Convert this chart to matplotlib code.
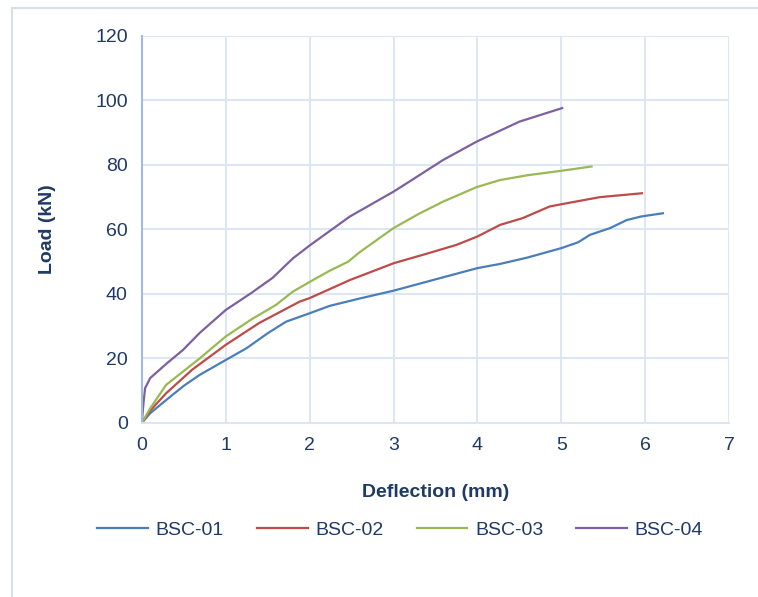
import numpy as np
import matplotlib
matplotlib.use("Agg")
import matplotlib.pyplot as plt
from matplotlib.patches import Rectangle

plt.rcParams['font.family'] = ['Liberation Sans', 'DejaVu Sans']

# load-deflection curves
bsc01_x = [0, 0.1, 0.29, 0.5, 0.69, 1.0, 1.25, 1.5, 1.72, 2.0, 2.24, 2.6, 3.0, 3.47, 4.0, 4.27, 4.6, 5.0, 5.2, 5.34, 5.58, 5.78, 5.95, 6.21]
bsc01_y = [0, 3.0, 7.1, 11.5, 14.9, 19.5, 23.2, 27.8, 31.4, 34.0, 36.3, 38.6, 41.0, 44.3, 48.0, 49.3, 51.3, 54.2, 56.0, 58.3, 60.4, 62.9, 64.0, 65.0]

bsc02_x = [0, 0.1, 0.29, 0.6, 1.0, 1.4, 1.88, 2.0, 2.24, 2.48, 3.0, 3.4, 3.75, 4.0, 4.27, 4.54, 4.86, 5.0, 5.46, 5.96]
bsc02_y = [0, 3.8, 9.2, 16.5, 24.2, 31.0, 37.6, 38.7, 41.5, 44.3, 49.5, 52.5, 55.2, 57.8, 61.4, 63.5, 67.1, 67.8, 70.0, 71.2]

bsc03_x = [0, 0.1, 0.29, 0.69, 1.0, 1.3, 1.6, 1.8, 2.04, 2.24, 2.46, 2.6, 3.0, 3.3, 3.59, 3.99, 4.27, 4.6, 5.01, 5.36]
bsc03_y = [0, 4.5, 11.8, 20.0, 26.8, 32.0, 36.6, 40.7, 44.3, 47.2, 50.0, 53.0, 60.4, 64.8, 68.6, 73.1, 75.3, 76.8, 78.2, 79.5]

bsc04_x = [0, 0.02, 0.04, 0.1, 0.3, 0.49, 0.69, 1.0, 1.3, 1.56, 1.8, 2.0, 2.48, 3.0, 3.2, 3.59, 3.99, 4.5, 5.01]
bsc04_y = [0, 6.0, 10.8, 13.9, 18.5, 22.6, 27.9, 35.0, 40.2, 45.0, 51.0, 55.0, 64.0, 71.7, 75.0, 81.5, 87.2, 93.4, 97.6]

labels = ['BSC-01', 'BSC-02', 'BSC-03', 'BSC-04']
colors = ['#4a7ebb', '#be4b48', '#98b954', '#7d60a0']
text_col = '#1f3a64'

fig = plt.figure(figsize=(7.58, 5.97), dpi=100)
ax = fig.add_axes([0.187, 0.2915, 0.775, 0.6485])

# chart area border
fig.patches.append(Rectangle((12 / 758, -0.1), 1.2, 1.1 - 8 / 597,
                             transform=fig.transFigure, fill=False,
                             edgecolor='#d9dee6', linewidth=1.5))

series = [(bsc01_x, bsc01_y), (bsc02_x, bsc02_y), (bsc03_x, bsc03_y), (bsc04_x, bsc04_y)]
for (xs, ys), lab, c in zip(series, labels, colors):
    ax.plot(xs, ys, color=c, linewidth=1.6, label=lab)

ax.set_xlim(0, 7)
ax.set_ylim(0, 120)
ax.set_xticks(range(0, 8))
ax.set_yticks(range(0, 121, 20))
ax.grid(True, color='#d9e4f4', linewidth=1.3)
ax.set_axisbelow(True)
ax.tick_params(length=0, labelsize=14, colors=text_col, pad=10)
for s in ['top', 'right']:
    ax.spines[s].set_visible(False)
ax.spines['left'].set_color('#9dbbe4')
ax.spines['left'].set_linewidth(1.5)
ax.spines['bottom'].set_color('#d9e4f4')
ax.spines['bottom'].set_linewidth(1.3)

ax.set_xlabel('Deflection (mm)', fontsize=14, fontweight='bold', color=text_col, labelpad=22)
ax.set_ylabel('Load (kN)', fontsize=14, fontweight='bold', color=text_col, labelpad=28)

leg = fig.legend(loc='center', bbox_to_anchor=(0.528, 0.112), ncol=4, frameon=False,
                 fontsize=14, handlelength=2.6, columnspacing=1.7, handletextpad=0.4)
for t in leg.get_texts():
    t.set_color(text_col)

fig.savefig('out.png', dpi=100)
